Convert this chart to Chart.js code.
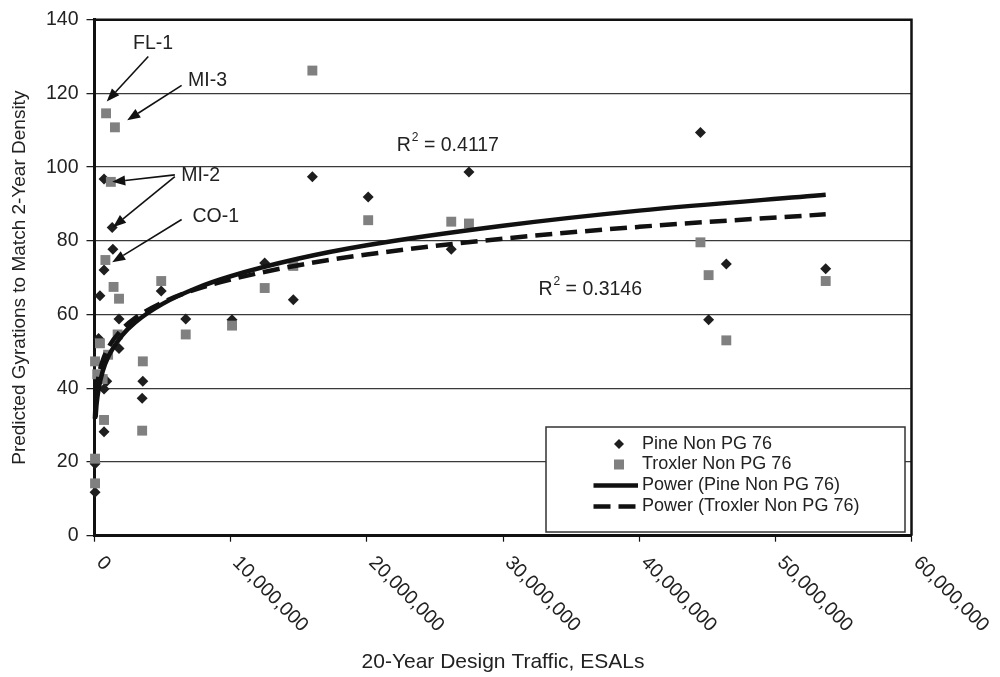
<!DOCTYPE html>
<html>
<head>
<meta charset="utf-8">
<title>Predicted gyrations vs design traffic</title>
<script src="https://cdn.jsdelivr.net/npm/chart.js@4.4.1/dist/chart.umd.min.js"></script>
<style>
  html, body { margin: 0; padding: 0; background: #fff; }
  #wrap { width: 1000px; height: 677px; }
</style>
</head>
<body>
<div id="wrap"><canvas id="gyrationChart" width="1000" height="677"></canvas></div>
<script>
// Pine Non PG 76 (black diamonds)
var pineEsals = [0.04e6, 0.04e6, 0.7e6, 3.5e6, 0.7e6, 0.9e6, 3.55e6, 1.8e6, 0.3e6, 1.8e6,
                 6.7e6, 10.1e6, 4.9e6, 0.4e6, 0.7e6, 1.35e6, 1.3e6, 0.7e6, 12.5e6, 14.6e6,
                 16.0e6, 20.1e6, 27.5e6, 26.2e6, 44.5e6, 46.4e6, 45.1e6, 53.7e6];
var pineGyr = [11.8, 19.5, 28.2, 37.3, 39.8, 41.9, 41.9, 50.8, 53.5, 58.8,
               58.8, 58.6, 66.4, 65.1, 72.1, 77.7, 83.6, 96.8, 74.0, 64.0,
               97.4, 91.9, 98.7, 77.7, 109.4, 73.7, 58.6, 72.4];

// Troxler Non PG 76 (grey squares)
var troxEsals = [0.04e6, 0.04e6, 3.5e6, 0.7e6, 0.6e6, 0.2e6, 0.04e6, 3.55e6, 1.0e6, 0.4e6,
                 1.7e6, 6.7e6, 10.1e6, 1.4e6, 1.8e6, 4.9e6, 12.5e6, 14.6e6, 0.8e6, 1.2e6,
                 1.5e6, 0.85e6, 16.0e6, 20.1e6, 26.2e6, 27.5e6, 44.5e6, 45.1e6, 46.4e6, 53.7e6];
var troxGyr = [14.2, 20.9, 28.5, 31.4, 42.5, 43.8, 47.3, 47.3, 49.1, 52.2,
               54.6, 54.6, 57.0, 67.5, 64.3, 69.1, 67.2, 73.2, 74.8, 96.0,
               110.8, 114.6, 126.2, 85.6, 85.2, 84.7, 79.6, 70.7, 53.0, 69.1];

// power trendlines
var pineFitEsals = [0.08e6, 0.15e6, 0.3e6, 0.6e6, 1e6, 2e6, 3e6, 5e6, 7.5e6, 10e6, 15e6, 20e6, 30e6, 40e6, 53.7e6];
var pineFitGyr = [32.1, 35.6, 39.8, 44.6, 48.5, 54.2, 57.9, 62.9, 67.2, 70.4, 75.2, 78.8, 84.1, 88.2, 92.5];
var troxFitEsals = [0.03e6, 0.08e6, 0.15e6, 0.3e6, 0.6e6, 1e6, 2e6, 3e6, 5e6, 7.5e6, 10e6, 15e6, 20e6, 30e6, 40e6, 53.7e6];
var troxFitGyr = [31.7, 36.2, 39.4, 43.3, 47.5, 50.9, 55.9, 59.1, 63.3, 66.9, 69.5, 73.4, 76.3, 80.6, 83.8, 87.2];

var xTicks = [0, 10e6, 20e6, 30e6, 40e6, 50e6, 60e6];
var yTicks = [0, 20, 40, 60, 80, 100, 120, 140];

var seriesNames = ['Pine Non PG 76', 'Troxler Non PG 76', 'Power (Pine Non PG 76)', 'Power (Troxler Non PG 76)'];
var r2Labels = ['0.4117', '0.3146'];
var calloutNames = ['FL-1', 'MI-3', 'MI-2', 'CO-1'];

var FONT = 'Liberation Sans, Arial, Helvetica, sans-serif';
var INK = '#222';
var PINE_COLOR = '#1e1e1e';
var TROX_COLOR = '#808080';

function toPoints(xs, ys) {
    var pts = [];
    for (var i = 0; i < xs.length; i++) {
        pts.push({x: xs[i], y: ys[i]});
    }
    return pts;
}

// where the callout texts and arrows sit, in data units
var calloutText = [[4.3e6, 133.5], [8.3e6, 123.4], [7.8e6, 97.8], [8.9e6, 86.5]];
var calloutArrows = [
    [3.95e6, 130.0, 0.9e6, 117.8],
    [6.4e6, 122.2, 2.4e6, 112.7],
    [5.9e6, 97.9, 1.3e6, 96.0],
    [5.9e6, 97.4, 1.36e6, 83.7],
    [6.4e6, 85.8, 1.3e6, 74.2]
];
var r2Pos = [[22.2e6, 105.8], [32.6e6, 66.7]];

function arrow(ctx, x1, y1, x2, y2) {
    var a = Math.atan2(y2 - y1, x2 - x1);
    var len = 13, half = 5;
    var bx = x2 - Math.cos(a) * len, by = y2 - Math.sin(a) * len;
    ctx.beginPath();
    ctx.moveTo(x1, y1);
    ctx.lineTo(bx, by);
    ctx.stroke();
    ctx.beginPath();
    ctx.moveTo(x2, y2);
    ctx.lineTo(bx - Math.sin(a) * half, by + Math.cos(a) * half);
    ctx.lineTo(bx + Math.sin(a) * half, by - Math.cos(a) * half);
    ctx.closePath();
    ctx.fill();
}

function diamond(ctx, cx, cy, r) {
    ctx.beginPath();
    ctx.moveTo(cx, cy - r);
    ctx.lineTo(cx + r, cy);
    ctx.lineTo(cx, cy + r);
    ctx.lineTo(cx - r, cy);
    ctx.closePath();
    ctx.fill();
}

var extras = {
    id: 'extras',
    afterDraw: function(chart) {
        var ctx = chart.ctx, ca = chart.chartArea;
        var x = chart.scales.x, y = chart.scales.y;
        ctx.save();

        // top and right frame
        ctx.strokeStyle = '#111';
        ctx.lineWidth = 2.5;
        ctx.beginPath();
        ctx.moveTo(ca.left, ca.top);
        ctx.lineTo(ca.right, ca.top);
        ctx.lineTo(ca.right, ca.bottom);
        ctx.stroke();

        // x tick labels, slanting down to the right from each tick
        ctx.fillStyle = INK;
        ctx.font = '19.5px ' + FONT;
        ctx.textAlign = 'left';
        ctx.textBaseline = 'middle';
        x.ticks.forEach(function(t) {
            var px = x.getPixelForValue(t.value);
            ctx.save();
            ctx.translate(px + 5, ca.bottom + 24);
            ctx.rotate(Math.PI / 4);
            ctx.fillText(t.value.toLocaleString('en-US'), 0, 0);
            ctx.restore();
        });

        // callouts
        ctx.strokeStyle = '#111';
        ctx.fillStyle = '#111';
        ctx.lineWidth = 1.6;
        calloutArrows.forEach(function(a) {
            arrow(ctx, x.getPixelForValue(a[0]), y.getPixelForValue(a[1]),
                  x.getPixelForValue(a[2]), y.getPixelForValue(a[3]));
        });
        ctx.fillStyle = INK;
        ctx.textAlign = 'center';
        calloutNames.forEach(function(name, i) {
            ctx.fillText(name, x.getPixelForValue(calloutText[i][0]), y.getPixelForValue(calloutText[i][1]));
        });

        // R squared labels
        ctx.textAlign = 'left';
        r2Labels.forEach(function(val, i) {
            var px = x.getPixelForValue(r2Pos[i][0]);
            var py = y.getPixelForValue(r2Pos[i][1]);
            ctx.font = '19.5px ' + FONT;
            ctx.fillText('R', px, py);
            var w = ctx.measureText('R').width;
            ctx.font = '12px ' + FONT;
            ctx.fillText('2', px + w + 1, py - 8);
            var w2 = ctx.measureText('2').width;
            ctx.font = '19.5px ' + FONT;
            ctx.fillText(' = ' + val, px + w + w2 + 1, py);
        });

        // legend box
        var lx = ca.right - 365.5, ly = ca.bottom - 108.7;
        var lw = 359, lh = 105;
        ctx.fillStyle = '#fff';
        ctx.fillRect(lx, ly, lw, lh);
        ctx.strokeStyle = '#333';
        ctx.lineWidth = 1.5;
        ctx.strokeRect(lx, ly, lw, lh);
        var rows = [17, 37.5, 58.5, 79.5];
        ctx.fillStyle = PINE_COLOR;
        diamond(ctx, lx + 73, ly + rows[0], 5);
        ctx.fillStyle = TROX_COLOR;
        ctx.fillRect(lx + 73 - 5, ly + rows[1] - 5, 10, 10);
        ctx.strokeStyle = '#111';
        ctx.lineWidth = 4.5;
        ctx.beginPath();
        ctx.moveTo(lx + 47.5, ly + rows[2]);
        ctx.lineTo(lx + 92, ly + rows[2]);
        ctx.stroke();
        ctx.setLineDash([17, 8]);
        ctx.beginPath();
        ctx.moveTo(lx + 47.5, ly + rows[3]);
        ctx.lineTo(lx + 92, ly + rows[3]);
        ctx.stroke();
        ctx.setLineDash([]);
        ctx.fillStyle = INK;
        ctx.font = '18px ' + FONT;
        ctx.textAlign = 'left';
        ctx.textBaseline = 'middle';
        seriesNames.forEach(function(name, i) {
            ctx.fillText(name, lx + 96, ly + rows[i]);
        });

        ctx.restore();
    }
};

var ctx = document.getElementById('gyrationChart').getContext('2d');

var chart = new Chart(ctx, {
    type: 'scatter',
    data: {
        datasets: [{
            label: seriesNames[2],
            data: toPoints(pineFitEsals, pineFitGyr),
            showLine: true,
            borderColor: '#111',
            borderWidth: 4.5,
            pointRadius: 0,
            cubicInterpolationMode: 'monotone',
            clip: false,
            order: 0
        }, {
            label: seriesNames[3],
            data: toPoints(troxFitEsals, troxFitGyr),
            showLine: true,
            borderColor: '#111',
            borderWidth: 4.5,
            borderDash: [17, 8],
            pointRadius: 0,
            cubicInterpolationMode: 'monotone',
            clip: false,
            order: 1
        }, {
            label: seriesNames[0],
            data: toPoints(pineEsals, pineGyr),
            pointStyle: 'rectRot',
            pointRadius: 5.5,
            pointBorderWidth: 0,
            borderWidth: 0,
            backgroundColor: PINE_COLOR,
            clip: false,
            order: 3
        }, {
            label: seriesNames[1],
            data: toPoints(troxEsals, troxGyr),
            pointStyle: 'rect',
            pointRadius: 7,
            pointBorderWidth: 0,
            borderWidth: 0,
            backgroundColor: TROX_COLOR,
            clip: false,
            order: 2
        }]
    },
    options: {
        responsive: false,
        animation: false,
        devicePixelRatio: 1,
        layout: { padding: { left: 0, top: 15.7, right: 88.5, bottom: 0 } },
        plugins: {
            legend: { display: false },
            tooltip: { enabled: false }
        },
        scales: {
            x: {
                type: 'linear',
                min: 0,
                max: 60e6,
                afterBuildTicks: function(scale) {
                    scale.ticks = xTicks.map(function(v) { return {value: v}; });
                },
                afterFit: function(scale) { scale.height = 141.3; },
                ticks: { display: false },
                grid: { drawOnChartArea: false, drawTicks: true, tickLength: 6, tickColor: '#111', tickWidth: 1.2 },
                border: { color: '#111', width: 3 },
                title: {
                    display: true,
                    text: '20-Year Design Traffic, ESALs',
                    color: INK,
                    font: { family: FONT, size: 21 },
                    padding: { top: 0, bottom: 2 }
                }
            },
            y: {
                min: 0,
                max: 140,
                afterBuildTicks: function(scale) {
                    scale.ticks = yTicks.map(function(v) { return {value: v}; });
                },
                afterFit: function(scale) { scale.width = 94.5; },
                ticks: { color: INK, font: { family: FONT, size: 19.5 }, padding: 8 },
                grid: { color: '#3a3a3a', lineWidth: 1.3, tickLength: 8, tickColor: '#111', tickWidth: 1.2 },
                border: { color: '#111', width: 3 },
                title: {
                    display: true,
                    text: 'Predicted Gyrations to Match 2-Year Density',
                    color: INK,
                    font: { family: FONT, size: 19 },
                    padding: { top: 8, bottom: 0 }
                }
            }
        }
    },
    plugins: [extras]
});
</script>
</body>
</html>
